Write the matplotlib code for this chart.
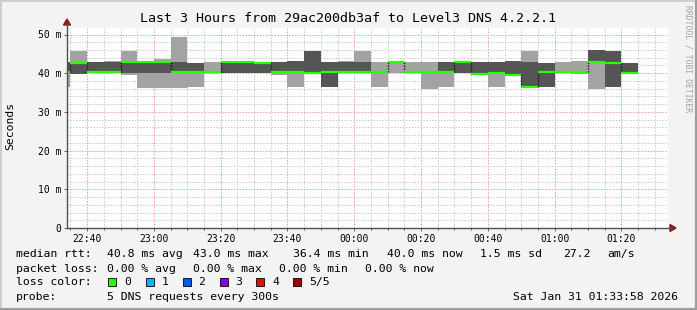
import matplotlib
matplotlib.use("Agg")
import matplotlib.pyplot as plt
from matplotlib.lines import Line2D
from matplotlib.patches import Rectangle, Polygon

# 5-minute steps (start time of each step)
slot_times = ["22:30", "22:35", "22:40", "22:45", "22:50", "22:55",
              "23:00", "23:05", "23:10", "23:15", "23:20", "23:25",
              "23:30", "23:35", "23:40", "23:45", "23:50", "23:55",
              "00:00", "00:05", "00:10", "00:15", "00:20", "00:25",
              "00:30", "00:35", "00:40", "00:45", "00:50", "00:55",
              "01:00", "01:05", "01:10", "01:15", "01:20"]

# sorted ping results per step (ms): min, 2nd, median, 4th, max
ping_1 = [36.5, 39.9, 40.0, 40.2, 39.6, 36.2, 36.2, 36.2, 36.5, 40.3, 40.0, 40.0,
          40.0, 39.6, 36.5, 39.7, 36.5, 40.0, 40.0, 36.5, 40.1, 40.1, 36.0, 36.5,
          40.0, 39.9, 36.5, 39.5, 36.2, 36.5, 40.1, 39.7, 35.9, 36.5, 40.0]
ping_2 = [40.0, 39.9, 40.0, 40.2, 40.0, 40.0, 40.0, 40.0, 40.0, 40.3, 40.0, 40.0,
          40.0, 40.0, 40.0, 39.7, 36.5, 40.0, 40.0, 40.4, 42.8, 40.1, 40.2, 40.2,
          40.0, 39.9, 39.8, 39.5, 36.2, 36.5, 40.1, 40.4, 42.9, 36.5, 40.0]
median = [40.2, 42.7, 40.2, 40.4, 42.9, 42.9, 42.8, 40.2, 40.2, 40.3, 43.0, 42.9,
          42.6, 40.2, 40.2, 40.1, 40.2, 40.2, 40.2, 40.4, 42.8, 40.2, 40.2, 40.4,
          42.8, 39.9, 40.0, 39.6, 36.4, 40.2, 40.2, 40.4, 42.9, 42.7, 40.0]
ping_4 = [43.0, 42.7, 42.9, 42.9, 42.9, 42.9, 42.8, 42.9, 42.7, 40.3, 43.0, 42.9,
          42.6, 43.0, 43.1, 45.7, 42.9, 42.9, 42.8, 40.4, 42.8, 40.2, 40.2, 42.9,
          42.8, 42.9, 43.0, 43.1, 42.9, 42.7, 40.2, 40.4, 46.0, 45.7, 42.7]
ping_5 = [43.0, 45.7, 42.9, 43.2, 45.7, 42.9, 43.6, 49.4, 42.7, 43.0, 43.0, 42.9,
          42.6, 43.0, 43.1, 45.7, 42.9, 43.2, 45.7, 42.9, 42.8, 42.9, 42.9, 42.9,
          42.8, 42.9, 43.0, 43.1, 45.7, 42.7, 42.9, 43.2, 46.0, 45.7, 42.7]

y_ticks = [0, 10, 20, 30, 40, 50]
y_tick_labels = ["0", "10 m", "20 m", "30 m", "40 m", "50 m"]
x_ticks = ["22:40", "23:00", "23:20", "23:40", "00:00", "00:20", "00:40", "01:00", "01:20"]

loss_labels = ["0", "1", "2", "3", "4", "5/5"]
loss_colors = ["#26ff00", "#00b8ff", "#0059ff", "#7e00ff", "#ff0000", "#a10000"]

W, H = 697, 310


def minutes(t):
    h, m = map(int, t.split(":"))
    if h < 12:
        h += 24
    return (h - 22) * 60 + m


def px(x, y):
    return x / W, 1 - y / H


fig = plt.figure(figsize=(W / 100, H / 100), dpi=100, facecolor="#f3f3f3")
plt.rcParams["font.family"] = ["DejaVu Sans Mono"]

left, right, top, bottom = 67, 668, 27.5, 228
ax = fig.add_axes([left / W, 1 - bottom / H, (right - left) / W, (bottom - top) / H])
ax.set_facecolor("white")

xs = [minutes(t) for t in slot_times]
light, dark = "#a3a3a3", "#555555"
for i, x0 in enumerate(xs):
    ax.bar(x0, ping_2[i] - ping_1[i], bottom=ping_1[i], width=5, align="edge", color=light, lw=0, zorder=3)
    ax.bar(x0, ping_5[i] - ping_4[i], bottom=ping_4[i], width=5, align="edge", color=light, lw=0, zorder=3)
    ax.bar(x0, ping_4[i] - ping_2[i], bottom=ping_2[i], width=5, align="edge", color=dark, lw=0, zorder=3)
    ax.hlines(median[i], x0, x0 + 5, colors="#26ff00", lw=1.6, zorder=5)
    if i > 0 and abs(median[i] - median[i - 1]) > 0.5:
        ax.vlines(x0, min(median[i], median[i - 1]), max(median[i], median[i - 1]),
                  colors="#111111", linestyles=(0, (1, 1)), lw=1, zorder=4)

x_end = minutes("01:33") + 58 / 60
ax.set_xlim(x_end - 180, x_end)
ax.set_ylim(0, (bottom - top) / 3.87)

ax.set_xticks([minutes(t) for t in x_ticks])
ax.set_xticklabels(x_ticks)
ax.set_xticks(range(35, 215, 5), minor=True)
ax.set_yticks(y_ticks)
ax.set_yticklabels(y_tick_labels)
ax.set_yticks(range(0, 52, 2), minor=True)
ax.grid(which="minor", color="#c8c8c8", linestyle=(0, (1.5, 1.5)), lw=0.7, zorder=1)
ax.grid(which="major", color="#f09a9a", linestyle=(0, (1.5, 1.5)), lw=0.7, zorder=2)
ax.tick_params(which="both", length=2, width=0.7, color="#606060", labelsize=7, pad=2)
ax.tick_params(axis="y", which="minor", length=0)
ax.tick_params(axis="x", which="minor", length=1.5)
for s in ax.spines.values():
    s.set_visible(False)

# axes with arrows
fig.add_artist(Line2D(*zip(px(left, bottom), px(672, bottom)), color="#505050", lw=1))
fig.add_artist(Line2D(*zip(px(left, bottom), px(left, 22)), color="#505050", lw=1))
fig.add_artist(Polygon([px(670, bottom - 3.5), px(670, bottom + 3.5), px(676, bottom)],
                       closed=True, color="#8b1a1a", transform=fig.transFigure))
fig.add_artist(Polygon([px(left - 3.5, 25), px(left + 3.5, 25), px(left, 19)],
                       closed=True, color="#8b1a1a", transform=fig.transFigure))

# border shading
fig.add_artist(Line2D(*zip(px(0.5, 0.5), px(696.5, 0.5)), color="#cfcfcf", lw=1.4))
fig.add_artist(Line2D(*zip(px(0.5, 0.5), px(0.5, 309.5)), color="#cfcfcf", lw=1.4))
fig.add_artist(Line2D(*zip(px(0, 309), px(697, 309)), color="#9e9e9e", lw=1.6))
fig.add_artist(Line2D(*zip(px(696, 0), px(696, 310)), color="#9e9e9e", lw=1.6))

fig.text(*px(348, 19), "Last 3 Hours from 29ac200db3af to Level3 DNS 4.2.2.1",
         ha="center", va="center", fontsize=9.6, color="#000000")
fig.text(*px(10, 126), "Seconds", rotation=90, ha="center", va="center", fontsize=8.2)
fig.text(*px(688, 5), "RRDTOOL / TOBI OETIKER", rotation=270, ha="center", va="top",
         fontsize=5.8, color="#a0a0a0")

fs = 8.25
rows = [
    (254, [(16, "median rtt:"), (107, "40.8 ms avg"), (193, "43.0 ms max"),
           (293, "36.4 ms min"), (387, "40.0 ms now"), (480, "1.5 ms sd"),
           (563, "27.2"), (607, "am/s")]),
    (268.5, [(16, "packet loss:"), (107, "0.00 % avg"), (193, "0.00 % max"),
             (279, "0.00 % min"), (365, "0.00 % now")]),
    (296.5, [(16, "probe:"), (107, "5 DNS requests every 300s"),
             (513, "Sat Jan 31 01:33:58 2026")]),
]
for y, items in rows:
    for x, s in items:
        fig.text(*px(x, y), s, ha="left", va="center", fontsize=fs)

fig.text(*px(16, 282), "loss color:", ha="left", va="center", fontsize=fs)
box_x = [108, 145.5, 182.5, 219.5, 256, 293]
for bx, lab, col in zip(box_x, loss_labels, loss_colors):
    fig.add_artist(Rectangle(px(bx, 286), 8 / W, 8 / H, transform=fig.transFigure,
                             facecolor=col, edgecolor="#000000", lw=0.6))
    fig.text(*px(bx + 16, 282), lab, ha="left", va="center", fontsize=fs)

fig.savefig("out.png", dpi=100, facecolor=fig.get_facecolor())
